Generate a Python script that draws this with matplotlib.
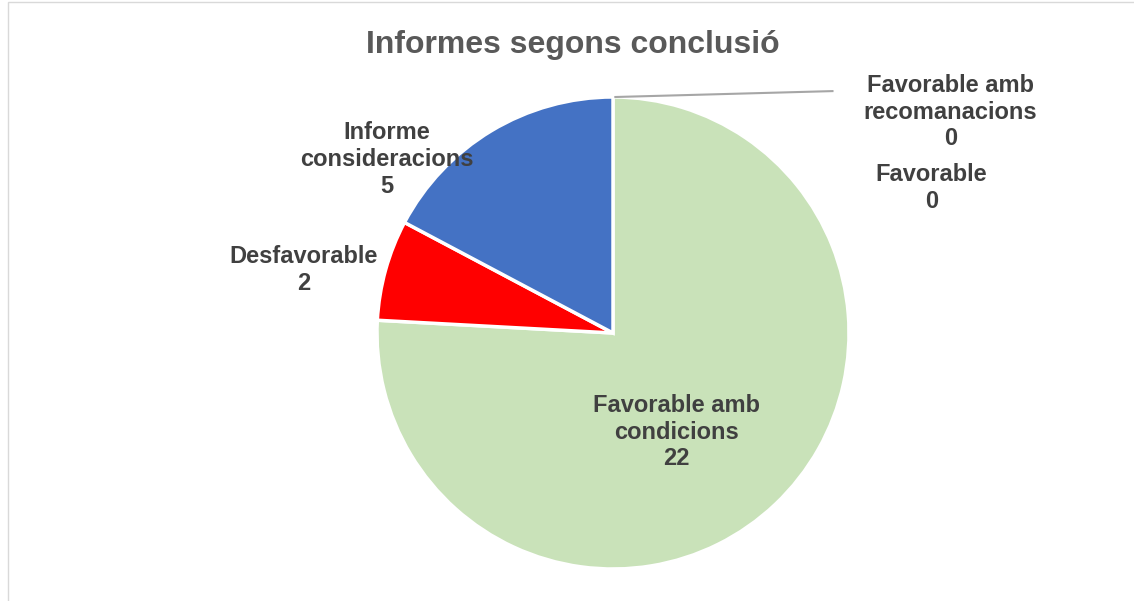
import matplotlib.pyplot as plt
from matplotlib.patches import Rectangle

# --------------------------
# Data
# --------------------------
categories = ["Favorable amb\nrecomanacions", "Favorable", "Favorable amb\ncondicions",
              "Desfavorable", "Informe\nconsideracions"]
values = [0, 0, 22, 2, 5]
colors = ["#ED7D31", "#A5A5A5", "#C9E2B9", "#FF0000", "#4472C4"]

# label centres (pie radius = 1)
label_pos = [(1.43, 0.935), (1.35, 0.615), (0.27, -0.42), (-1.31, 0.267), (-0.96, 0.735)]

plt.rcParams['font.family'] = ['Liberation Sans', 'DejaVu Sans']

fig = plt.figure(figsize=(11.34, 6.01), dpi=100)
fig.patches.append(Rectangle((0.007, -0.01), 1.0, 1.007, transform=fig.transFigure,
                             fill=False, edgecolor="#d9d9d9", linewidth=1))

# pie centre (613, 333) px, radius 236 px
cx, cy, r = 613, 333, 236
ax = fig.add_axes([(cx - r) / 1134, (601 - cy - r) / 601, 2 * r / 1134, 2 * r / 601])

wedges, _ = ax.pie(values, colors=colors, startangle=90, counterclock=False,
                   wedgeprops=dict(edgecolor="white", linewidth=2.5), radius=1)
ax.set_xlim(-1, 1)
ax.set_ylim(-1, 1)
ax.set_aspect("equal")
ax.axis("off")

for name, v, (x, y) in zip(categories, values, label_pos):
    ax.text(x, y, f"{name}\n{v}", ha="center", va="center", fontsize=17,
            fontweight="bold", color="#404040", linespacing=1.2)

# leader line for the first (zero) slice
ax.plot([0.01, 0.93], [1.0, 1.025], color="#a6a6a6", linewidth=1.5, clip_on=False)

fig.text(0.505, 0.925, "Informes segons conclusió", ha="center", va="center",
         fontsize=23, fontweight="bold", color="#595959")

fig.savefig("out.png", dpi=100)
